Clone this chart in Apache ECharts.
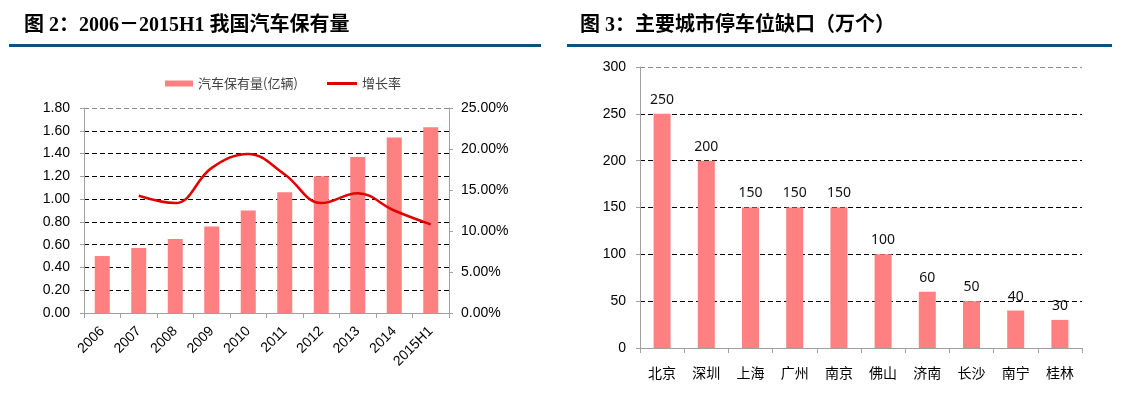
<!DOCTYPE html>
<html>
<head>
<meta charset="utf-8">
<script src="https://cdn.jsdelivr.net/npm/echarts@6/dist/echarts.min.js"></script>
<style>
html,body{margin:0;padding:0;background:#fff;}
#c{width:1132px;height:393px;}
</style>
</head>
<body>
<div id="c"></div>
<script>
// Left chart data
const years = ['2006','2007','2008','2009','2010','2011','2012','2013','2014','2015H1'];
const carStock = [0.50, 0.57, 0.65, 0.76, 0.90, 1.06, 1.20, 1.37, 1.54, 1.63];
const growthRate = [null, 14.3, 13.4, 17.7, 19.4, 16.9, 13.4, 14.6, 12.5, 10.8];
const leftTicks = [0, 0.2, 0.4, 0.6, 0.8, 1.0, 1.2, 1.4, 1.6, 1.8];
const rightTicks = [0, 5, 10, 15, 20, 25];

// Right chart data
const cities = ['北京','深圳','上海','广州','南京','佛山','济南','长沙','南宁','桂林'];
const parkingGap = [250, 200, 150, 150, 150, 100, 60, 50, 40, 30];
const gapTicks = [0, 50, 100, 150, 200, 250, 300];

const titleLeft = '图 2：2006－2015H1 我国汽车保有量';
const titleRight = '图 3：主要城市停车位缺口（万个）';

const chart = echarts.init(document.getElementById('c'), null, {renderer:'canvas'});
const AX = '"Liberation Sans", Arial, sans-serif';
const CJK = '"Noto Sans CJK SC", sans-serif';
const TITLEF = '"Liberation Serif", "Noto Sans CJK SC", serif';
const gridColors = (n) => { const a = []; for (let i = 0; i < n - 1; i++) a.push('#000'); a.push('#8c8c8c'); return a; };

const option = {
  animation: false,
  backgroundColor: '#fff',
  graphic: [
    {type:'text', left:24, top:16, style:{text:titleLeft, font:'bold 20px ' + TITLEF, fill:'#000'}},
    {type:'rect', shape:{x:9, y:44, width:532, height:3}, style:{fill:'#11507E'}},
    {type:'text', left:580, top:16, style:{text:titleRight, font:'bold 20px ' + TITLEF, fill:'#000'}},
    {type:'rect', shape:{x:567, y:44, width:545, height:3}, style:{fill:'#11507E'}}
  ],
  legend: [
    {
      left: 160, top: 72,
      itemWidth: 28, itemHeight: 6,
      textStyle: {fontFamily: CJK, fontSize: 13, color: '#404040'},
      data: [{name:'汽车保有量(亿辆)', icon:'rect'}]
    },
    {
      left: 322, top: 72,
      itemWidth: 30, itemHeight: 3,
      textStyle: {fontFamily: CJK, fontSize: 13, color: '#404040'},
      data: [{name:'增长率', icon:'rect', itemStyle:{color:'#E00000'}}]
    }
  ],
  grid: [
    {left:84, right:1132-449, top:108, bottom:393-313, containLabel:false},
    {left:640, right:1132-1082, top:67, bottom:393-348, containLabel:false}
  ],
  xAxis: [
    {
      type:'category', gridIndex:0, data: years, boundaryGap:true,
      axisLine:{lineStyle:{color:'#a0a0a0', width:1}},
      axisTick:{show:true, length:5, lineStyle:{color:'#a0a0a0'}},
      axisLabel:{rotate:45, margin:16, color:'#000', fontFamily:AX, fontSize:14}
    },
    {
      type:'category', gridIndex:1, data: cities, boundaryGap:true,
      axisLine:{lineStyle:{color:'#a0a0a0', width:1}},
      axisTick:{show:true, length:5, lineStyle:{color:'#a0a0a0'}},
      axisLabel:{margin:18, color:'#000', fontFamily:CJK, fontSize:14}
    }
  ],
  yAxis: [
    {
      type:'value', gridIndex:0, min:leftTicks[0], max:leftTicks[leftTicks.length-1], interval:0.2,
      axisLine:{show:true, lineStyle:{color:'#a0a0a0'}},
      axisTick:{show:true, length:4, lineStyle:{color:'#a0a0a0'}},
      axisLabel:{margin:14, color:'#000', fontFamily:AX, fontSize:14, formatter:(v)=>v.toFixed(2)},
      splitLine:{show:true, lineStyle:{type:[5,3], color:gridColors(leftTicks.length), width:1}}
    },
    {
      type:'value', gridIndex:0, position:'right', min:rightTicks[0], max:rightTicks[rightTicks.length-1], interval:5,
      axisLine:{show:true, lineStyle:{color:'#a0a0a0'}},
      axisTick:{show:true, length:4, lineStyle:{color:'#a0a0a0'}},
      axisLabel:{margin:12, color:'#000', fontFamily:AX, fontSize:14, formatter:(v)=>v.toFixed(2)+'%'},
      splitLine:{show:false}
    },
    {
      type:'value', gridIndex:1, min:gapTicks[0], max:gapTicks[gapTicks.length-1], interval:50,
      axisLine:{show:true, lineStyle:{color:'#a0a0a0'}},
      axisTick:{show:true, length:4, lineStyle:{color:'#a0a0a0'}},
      axisLabel:{margin:14, color:'#000', fontFamily:AX, fontSize:14},
      splitLine:{show:true, lineStyle:{type:[5,3], color:gridColors(gapTicks.length), width:1}}
    }
  ],
  series: [
    {
      name:'汽车保有量(亿辆)', type:'bar', xAxisIndex:0, yAxisIndex:0,
      data: carStock, barWidth:15,
      itemStyle:{color:'#FF8080'}
    },
    {
      name:'增长率', type:'line', xAxisIndex:0, yAxisIndex:1,
      data: growthRate, smooth:0.4, symbol:'none', connectNulls:false,
      lineStyle:{color:'#E00000', width:2.5},
      itemStyle:{color:'#E00000'}
    },
    {
      name:'停车位缺口', type:'bar', xAxisIndex:1, yAxisIndex:2,
      data: parkingGap, barWidth:17,
      itemStyle:{color:'#FF8080'},
      label:{show:true, position:'top', distance:7, color:'#111', fontFamily:'"Noto Sans", sans-serif', fontSize:14}
    }
  ]
};
chart.setOption(option);
</script>
</body>
</html>
